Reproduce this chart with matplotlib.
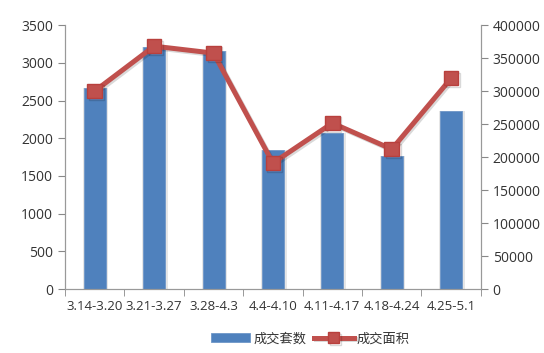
import matplotlib.pyplot as plt
import matplotlib.patheffects as pe
import numpy as np

plt.rcParams['font.family'] = ['Open Sans', 'Noto Sans CJK SC', 'DejaVu Sans']

weeks = ['3.14-3.20', '3.21-3.27', '3.28-4.3', '4.4-4.10',
         '4.11-4.17', '4.18-4.24', '4.25-5.1']
deals = [2665, 3208, 3155, 1843, 2068, 1763, 2360]
area = [300000, 368000, 357500, 191000, 251500, 212000, 319500]

x = np.arange(len(weeks))
fig = plt.figure(figsize=(5.44, 3.53), dpi=100)
ax1 = fig.add_axes([0.1195, 0.181, 0.7645, 0.748])
ax2 = ax1.twinx()

# 柱子的浅灰阴影
ax1.bar(x + 0.015, deals, width=0.43, color='#e6e6e6', zorder=1)
ax1.bar(x, deals, width=0.37, color='#4f81bd', edgecolor='#6f97c8',
        linewidth=0.6, zorder=2, label='成交套数')

ax2.plot(x, area, color='#c0504d', linewidth=3.6, marker='s', markersize=10.5,
         markerfacecolor='#c0504d', markeredgecolor='#b8403d',
         label='成交面积',
         path_effects=[pe.SimpleLineShadow(offset=(1.2, -1.2), alpha=0.15),
                       pe.Normal()])

ax1.set_xlim(-0.5, len(weeks) - 0.5)
ax1.set_ylim(0, 3500)
ax2.set_ylim(0, 400000)
ax1.set_yticks(np.arange(0, 3501, 500))
ax2.set_yticks(np.arange(0, 400001, 50000))
ax1.set_xticks(x)
ax1.set_xticklabels(weeks)
ax1.set_xticks(np.arange(-0.5, len(weeks), 1), minor=True)
ax1.tick_params(axis='x', which='major', length=0, pad=8)
ax1.tick_params(axis='x', which='minor', length=5, color='#888888')

for ax in (ax1, ax2):
    ax.tick_params(axis='y', length=5, color='#888888', labelsize=10,
                   labelcolor='#333333')
    ax.tick_params(axis='x', labelsize=9.5, labelcolor='#333333')
    ax.spines['top'].set_visible(False)
    for s in ('left', 'right', 'bottom'):
        ax.spines[s].set_color('#999999')

h1, l1 = ax1.get_legend_handles_labels()
h2, l2 = ax2.get_legend_handles_labels()
fig.legend(h1 + h2, l1 + l2, loc='center', bbox_to_anchor=(0.57, 0.04),
           ncol=2, frameon=False, fontsize=9.5, handlelength=3,
           markerscale=0.75, columnspacing=0.6, handletextpad=0.2,
           labelcolor='#333333')

fig.savefig('out.png', dpi=100)
